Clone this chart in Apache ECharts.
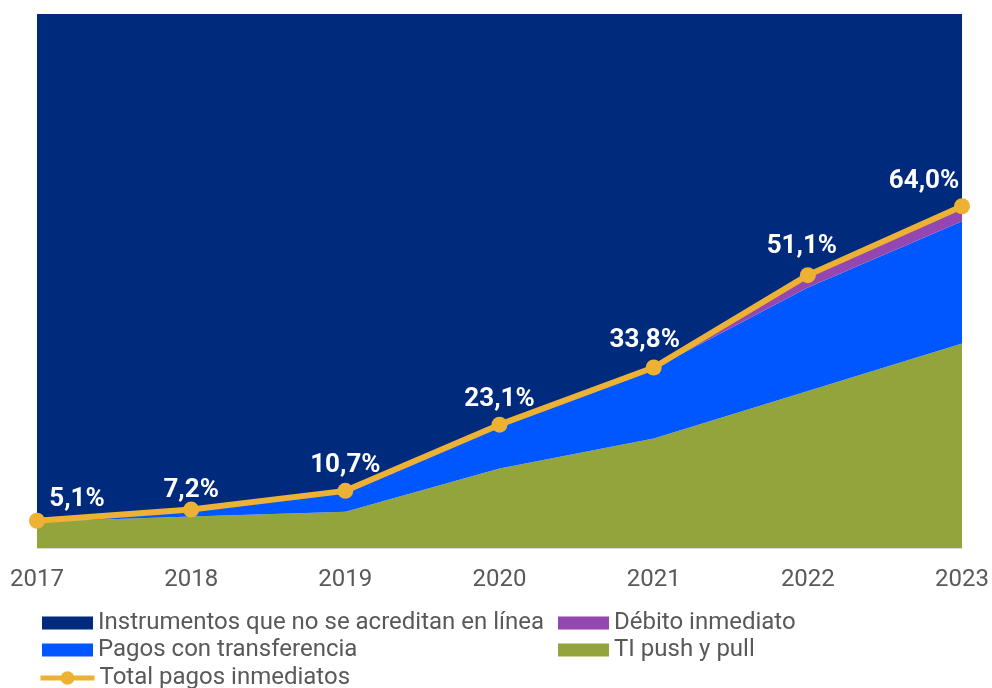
<!DOCTYPE html>
<html>
<head>
<meta charset="utf-8">
<script src="https://cdn.jsdelivr.net/npm/echarts@6/dist/echarts.min.js"></script>
<style>
  html, body { margin: 0; padding: 0; background: #ffffff; }
  #chart { width: 992px; height: 688px; }
</style>
</head>
<body>
<div id="chart"></div>
<script>
// Years on the horizontal axis
const years = ['2017', '2018', '2019', '2020', '2021', '2022', '2023'];

// Share of payments by instrument (% of total), stacked from the bottom
const tiPushPull = [4.9, 5.9, 6.8, 14.9, 20.5, 29.4, 38.3];
const pagosTransferencia = [0.2, 1.3, 3.9, 8.2, 13.1, 19.4, 22.9];
const debitoInmediato = [0, 0, 0, 0, 0.2, 2.3, 2.8];
const noAcreditanEnLinea = [94.9, 92.8, 89.3, 76.9, 66.2, 48.9, 36.0];

// Total of immediate payments (% of total)
const totalInmediatos = [5.1, 7.2, 10.7, 23.1, 33.8, 51.1, 64.0];

const FONT = 'Roboto, "Noto Sans", sans-serif';
const C_NAVY = '#002B7D';
const C_BLUE = '#0057FF';
const C_PURPLE = '#9446B1';
const C_GREEN = '#93A43C';
const C_GOLD = '#EDB133';

function areaSeries(name, data, color) {
  return {
    name: name,
    type: 'line',
    stack: 'share',
    data: data,
    showSymbol: false,
    symbol: 'none',
    lineStyle: { width: 0 },
    itemStyle: { color: color },
    areaStyle: { color: color, opacity: 1 },
    emphasis: { disabled: true },
    silent: true,
    z: 2
  };
}

// One legend box per entry, laid out in two columns
function legendItem(name, left, top, icon) {
  const entry = { name: name };
  if (icon) entry.icon = icon;
  return {
    orient: 'vertical',
    left: left,
    top: top,
    padding: 0,
    itemWidth: 51,
    itemHeight: 13,
    itemGap: 0,
    selectedMode: false,
    textStyle: { color: '#595959', fontSize: 24, fontFamily: FONT, lineHeight: 24 },
    data: [entry]
  };
}

// The line entry gets a thicker stroke and a larger marker
const totalLegend = legendItem('Total pagos inmediatos', 38, 666);
totalLegend.itemWidth = 54;
totalLegend.itemHeight = 17;
totalLegend.lineStyle = { width: 5 };

// Labels for the total line; the end points are nudged inward
const totalData = totalInmediatos.map(function (v, i) {
  const item = { value: v };
  if (i === 0) item.label = { offset: [40, 4] };
  if (i === 1) item.label = { offset: [0, 6] };
  if (i === 4) item.label = { offset: [-9, -2] };
  if (i === 5) item.label = { offset: [-6, -4] };
  if (i === totalInmediatos.length - 1) item.label = { offset: [-38, 0] };
  return item;
});

const chart = echarts.init(document.getElementById('chart'), null, { renderer: 'canvas' });

chart.setOption({
  animation: false,
  backgroundColor: '#ffffff',
  textStyle: { fontFamily: FONT },
  grid: { left: 37, right: 29, top: 14, bottom: 140, containLabel: false },
  xAxis: {
    type: 'category',
    data: years,
    boundaryGap: false,
    axisLine: { show: true, lineStyle: { color: '#d9d9d9', width: 1 } },
    axisTick: { show: false },
    axisLabel: {
      color: '#595959',
      fontSize: 24,
      fontFamily: FONT,
      margin: 20,
      interval: 0
    },
    splitLine: { show: false }
  },
  yAxis: {
    type: 'value',
    min: 0,
    max: 100,
    interval: 100,
    axisLine: { show: false },
    axisTick: { show: false },
    axisLabel: { show: false },
    splitLine: { show: true, lineStyle: { color: '#c8cfdf', width: 1 } }
  },
  legend: [
    legendItem('Instrumentos que no se acreditan en línea', 42, 611, 'rect'),
    legendItem('Pagos con transferencia', 42, 638, 'rect'),
    totalLegend,
    legendItem('Débito inmediato', 558, 611, 'rect'),
    legendItem('TI push y pull', 558, 638, 'rect')
  ],
  series: [
    areaSeries('TI push y pull', tiPushPull, C_GREEN),
    areaSeries('Pagos con transferencia', pagosTransferencia, C_BLUE),
    areaSeries('Débito inmediato', debitoInmediato, C_PURPLE),
    areaSeries('Instrumentos que no se acreditan en línea', noAcreditanEnLinea, C_NAVY),
    {
      name: 'Total pagos inmediatos',
      type: 'line',
      data: totalData,
      symbol: 'circle',
      symbolSize: 16,
      showSymbol: true,
      itemStyle: { color: C_GOLD },
      lineStyle: { color: C_GOLD, width: 6 },
      label: {
        show: true,
        position: 'top',
        distance: 4,
        color: '#ffffff',
        fontSize: 26,
        fontWeight: 'bold',
        fontFamily: FONT,
        formatter: function (p) {
          return p.value.toFixed(1).replace('.', ',') + '%';
        }
      },
      emphasis: { disabled: true },
      z: 5
    }
  ]
});
</script>
</body>
</html>
